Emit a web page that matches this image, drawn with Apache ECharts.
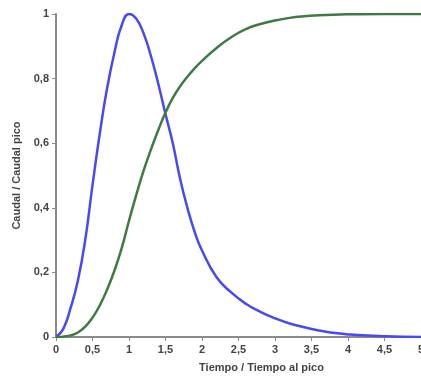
<!DOCTYPE html>
<html>
<head>
<meta charset="utf-8">
<script src="https://cdn.jsdelivr.net/npm/echarts@6/dist/echarts.min.js"></script>
<style>
  html, body { margin: 0; padding: 0; background: #fff; }
  #chart { width: 421px; height: 379px; }
</style>
</head>
<body>
<div id="chart"></div>
<script>
// valores (t/tp)
const tiempo = [0, 0.1, 0.2, 0.3, 0.4, 0.5, 0.6, 0.7, 0.8, 0.9, 1.0, 1.1, 1.2, 1.3, 1.4, 1.5, 1.6, 1.7, 1.8, 1.9, 2.0, 2.2, 2.4, 2.6, 2.8, 3.0, 3.2, 3.4, 3.6, 3.8, 4.0, 4.5, 5.0];
const caudal = [0, 0.025, 0.09, 0.175, 0.3, 0.47, 0.63, 0.77, 0.88, 0.965, 1.0, 0.985, 0.94, 0.87, 0.785, 0.69, 0.6, 0.49, 0.4, 0.325, 0.268, 0.185, 0.138, 0.103, 0.078, 0.058, 0.042, 0.03, 0.02, 0.013, 0.008, 0.002, 0];
const acumulado = [0, 0.001, 0.005, 0.014, 0.032, 0.06, 0.098, 0.147, 0.205, 0.275, 0.36, 0.44, 0.515, 0.58, 0.64, 0.695, 0.74, 0.776, 0.806, 0.832, 0.855, 0.895, 0.928, 0.953, 0.969, 0.98, 0.988, 0.993, 0.996, 0.998, 0.999, 1.0, 1.0];

const coma = (v) => String(v).replace('.', ',');
const txt = { color: '#444', fontSize: 11, fontWeight: 'bold', fontFamily: 'Liberation Sans, Arial, sans-serif' };

const chart = echarts.init(document.getElementById('chart'));
chart.setOption({
  animation: false,
  grid: { left: 56, right: 0, top: 14, bottom: 42, containLabel: false, outerBoundsMode: 'none' },
  xAxis: {
    type: 'value',
    min: 0, max: 5, interval: 0.5,
    name: 'Tiempo / Tiempo al pico',
    nameLocation: 'middle',
    nameGap: 25,
    nameTextStyle: { ...txt, padding: [0, 0, 0, 46] },
    axisLine: { lineStyle: { color: '#8a8a8a', width: 2 } },
    axisTick: { show: true, length: 4, lineStyle: { color: '#8a8a8a' } },
    axisLabel: { ...txt, margin: 7, formatter: coma },
    splitLine: { show: false },
  },
  yAxis: {
    type: 'value',
    min: 0, max: 1, interval: 0.2,
    name: 'Caudal / Caudal pico',
    nameLocation: 'middle',
    nameGap: 34,
    nameTextStyle: txt,
    axisLine: { show: true, lineStyle: { color: '#8a8a8a', width: 2 } },
    axisTick: { show: true, length: 4, lineStyle: { color: '#8a8a8a' } },
    axisLabel: { ...txt, margin: 7, formatter: (v) => coma(+v.toFixed(1)) },
    splitLine: { show: false },
  },
  series: [
    {
      type: 'line',
      data: tiempo.map((t, i) => [t, caudal[i]]),
      smooth: 0.5,
      showSymbol: false,
      lineStyle: { color: '#4848f4', width: 2.5 },
    },
    {
      type: 'line',
      data: tiempo.map((t, i) => [t, acumulado[i]]),
      smooth: 0.5,
      showSymbol: false,
      lineStyle: { color: '#3f7a45', width: 2.5 },
    },
  ],
});
</script>
</body>
</html>
